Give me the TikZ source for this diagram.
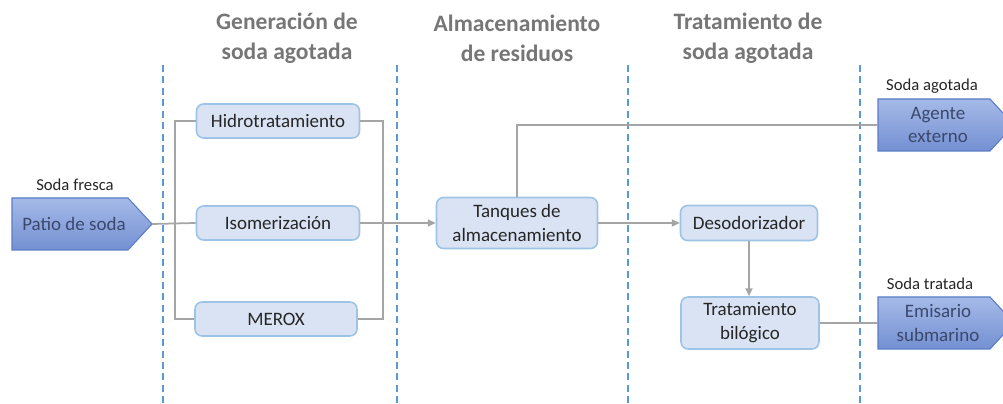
\documentclass[tikz,border=0pt]{standalone}
\usepackage{fontspec}
\setmainfont{Carlito}
\usetikzlibrary{positioning,calc,arrows.meta}

\definecolor{cajafondo}{RGB}{218,227,243}
\definecolor{cajaborde}{RGB}{157,195,230}
\definecolor{gris}{RGB}{165,165,165}
\definecolor{guia}{RGB}{91,155,213}
\definecolor{titulo}{RGB}{118,118,118}
\definecolor{salidaarriba}{RGB}{165,186,232}
\definecolor{salidaabajo}{RGB}{116,144,210}
\definecolor{salidaborde}{RGB}{90,124,198}
\definecolor{salidatexto}{RGB}{58,72,108}

\begin{document}
\begin{tikzpicture}[x=0.02cm,y=-0.02cm,
	caja/.style={draw=cajaborde,fill=cajafondo,rounded corners=4pt,line width=0.9pt,
		align=center,inner sep=0pt,text=black!85,
		font=\fontsize{10.8}{13.6}\selectfont},
	encabezado/.style={align=center,text=titulo,font=\fontsize{13.4}{17}\selectfont\bfseries},
	etiqueta/.style={text=black!85,font=\fontsize{9.5}{11}\selectfont},
	salida/.style={draw=salidaborde,line width=0.6pt,top color=salidaarriba,bottom color=salidaabajo},
	salidatexto/.style={align=center,text=salidatexto,font=\fontsize{10.8}{13.6}\selectfont},
	conector/.style={draw=gris,line width=1pt},
	flecha/.style={conector,-{Triangle[length=4.5pt,width=4pt]}}]
\useasboundingbox (0,0) rectangle (1003,404);

% guias
\foreach \x in {163,397,628,860}
	\draw[guia,line width=0.9pt,dash pattern=on 4pt off 2.5pt] (\x,65)--(\x,404);

\node[encabezado] at (287,38) {Generación de\\soda agotada};
\node[encabezado] at (517,38) {Almacenamiento\\de residuos};
\node[encabezado] at (748,38) {Tratamiento de\\soda agotada};

% entradas y salidas
\foreach \xa/\xb/\ya/\yb/\nombre/\texto in {12/128/198/250/patio/{Patio de soda},
		878/990/99/151/agente/{Agente\\externo},878/990/297/349/emisario/{Emisario\\submarino}}{
	\path[salida] (\xa,\ya)--(\xb,\ya)--(\xb+24,{(\ya+\yb)/2})--(\xb,\yb)--(\xa,\yb)--cycle;
	\node[salidatexto] (\nombre) at ({(\xa+\xb)/2+4},{(\ya+\yb)/2}) {\texto};
	\coordinate (\nombre-entrada) at (\xa,{(\ya+\yb)/2});
	\coordinate (\nombre-punta) at (\xb+24,{(\ya+\yb)/2});
}
\node[etiqueta] at (75,185) {Soda fresca};
\node[etiqueta] at (932,86) {Soda agotada};
\node[etiqueta] at (930,284) {Soda tratada};

% procesos
\node[caja,minimum width=3.26cm,minimum height=0.68cm] (hidro) at (278,121) {Hidrotratamiento};
\node[caja,minimum width=3.26cm,minimum height=0.68cm] (iso) at (278,223) {Isomerización};
\node[caja,minimum width=3.24cm,minimum height=0.68cm] (merox) at (276,319) {MEROX};
\node[caja,minimum width=3.22cm,minimum height=1.02cm] (tanques) at (517,223) {Tanques de\\almacenamiento};
\node[caja,minimum width=2.74cm,minimum height=0.7cm] (deso) at (749,223) {Desodorizador};
\node[caja,minimum width=2.76cm,minimum height=1.04cm] (trat) at (750,323) {Tratamiento\\bilógico};

\draw[conector] (patio-punta)--(iso.west);
\draw[conector] (hidro.west)--++(-21,0)|-(merox.west);
\draw[conector] (hidro.east)--++(23,0)|-(merox.east);
\draw[flecha] (iso.east)--(tanques.west);
\draw[conector] (tanques.north)|-(agente-entrada);
\draw[flecha] (tanques.east)--(deso.west);
\draw[flecha] (deso.south)--(deso.south|-trat.north);
\draw[conector] (trat.east|-emisario-entrada)--(emisario-entrada);

\end{tikzpicture}
\end{document}
